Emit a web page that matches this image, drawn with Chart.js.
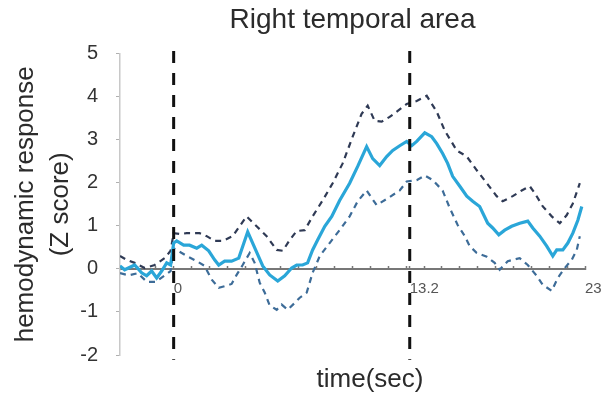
<!DOCTYPE html>
<html>
<head>
<meta charset="utf-8">
<script src="https://cdn.jsdelivr.net/npm/chart.js@4/dist/chart.umd.min.js"></script>
<style>
  html, body { margin: 0; padding: 0; background: #ffffff; }
  #wrap { width: 603px; height: 396px; }
</style>
</head>
<body>
<div id="wrap"><canvas id="c" width="603" height="396"></canvas></div>
<script>
// ---- DATA ----
const chartTitle = 'Right temporal area';
const yTitle = ['hemodynamic response', '(Z score)'];
const xTitle = 'time(sec)';
const xTickLabels = [0, 13.2, 23];
const markerTimes = [0, 13.2];

const meanTime = [-3.0, -2.74, -2.18, -1.79, -1.51, -1.23, -0.95, -0.67, -0.39, -0.17, 0.0, 0.17, 0.56, 0.89, 1.29, 1.57, 1.96, 2.29, 2.52, 2.85, 3.24, 3.64, 4.14, 4.98, 5.37, 5.82, 6.21, 6.60, 6.88, 7.21, 7.49, 7.77, 8.05, 8.45, 8.84, 9.28, 9.84, 10.29, 10.79, 11.13, 11.52, 11.91, 12.25, 12.64, 13.03, 13.31, 13.59, 14.04, 14.43, 14.71, 15.04, 15.32, 15.60, 16.00, 16.39, 16.72, 17.11, 17.56, 17.84, 18.18, 18.51, 18.90, 19.35, 19.80, 20.08, 20.47, 20.86, 21.20, 21.42, 21.76, 22.04, 22.32, 22.60, 22.82];
const meanValues = [0.07, -0.02, 0.09, -0.09, -0.16, -0.05, -0.21, -0.05, 0.14, 0.09, 0.60, 0.65, 0.55, 0.55, 0.48, 0.55, 0.42, 0.21, 0.09, 0.18, 0.18, 0.25, 0.86, 0.07, -0.14, -0.28, -0.16, 0.02, 0.09, 0.09, 0.14, 0.44, 0.67, 0.99, 1.22, 1.59, 1.99, 2.38, 2.84, 2.56, 2.40, 2.61, 2.75, 2.86, 2.96, 2.86, 2.96, 3.16, 3.07, 2.91, 2.68, 2.45, 2.15, 1.92, 1.69, 1.57, 1.45, 1.06, 0.95, 0.79, 0.90, 0.99, 1.06, 1.11, 0.95, 0.76, 0.53, 0.30, 0.44, 0.44, 0.60, 0.83, 1.13, 1.45];

const upperTime = [-3.0, -2.63, -2.18, -1.62, -1.06, -0.50, -0.17, 0.0, 0.34, 0.73, 1.45, 1.85, 2.29, 2.74, 3.30, 3.69, 4.08, 4.64, 5.20, 5.76, 6.10, 6.49, 6.88, 7.33, 7.77, 8.33, 8.89, 9.45, 10.01, 10.51, 10.85, 11.24, 11.63, 12.08, 12.53, 13.03, 13.59, 14.15, 14.71, 15.16, 15.83, 16.39, 16.95, 17.51, 18.06, 18.40, 18.96, 19.46, 19.91, 20.19, 20.64, 21.14, 21.59, 21.98, 22.32, 22.71];
const upperValues = [0.30, 0.21, 0.14, 0.02, 0.09, 0.25, 0.42, 0.83, 0.81, 0.83, 0.83, 0.76, 0.65, 0.65, 0.76, 0.99, 1.22, 0.99, 0.76, 0.44, 0.42, 0.67, 0.88, 0.90, 1.22, 1.59, 1.99, 2.45, 3.07, 3.60, 3.79, 3.44, 3.42, 3.53, 3.67, 3.83, 3.90, 4.02, 3.65, 3.21, 2.75, 2.61, 2.29, 1.99, 1.69, 1.57, 1.69, 1.82, 1.92, 1.76, 1.45, 1.22, 1.06, 1.25, 1.52, 1.99];

const lowerTime = [-3.0, -2.5, -2.0, -1.5, -1.0, -0.5, -0.17, 0.0, 0.17, 0.73, 1.29, 1.73, 2.13, 2.52, 2.96, 3.24, 3.52, 3.86, 4.25, 4.53, 4.81, 5.09, 5.37, 5.76, 6.04, 6.38, 6.77, 7.05, 7.44, 7.77, 8.17, 8.72, 9.28, 9.84, 10.29, 10.79, 11.35, 11.97, 12.64, 13.03, 13.59, 14.04, 14.49, 15.04, 15.44, 15.88, 16.28, 16.55, 16.95, 17.51, 17.95, 18.23, 18.68, 19.35, 19.80, 20.30, 20.64, 21.14, 21.48, 21.87, 22.26, 22.54, 22.71];
const lowerValues = [-0.10, -0.15, -0.10, -0.30, -0.30, -0.15, -0.05, 0.48, 0.44, 0.30, 0.18, 0.07, -0.25, -0.44, -0.39, -0.35, -0.14, 0.09, 0.37, 0.14, -0.32, -0.55, -0.85, -0.95, -0.83, -0.95, -0.79, -0.67, -0.55, -0.09, 0.30, 0.60, 0.90, 1.22, 1.57, 1.82, 1.48, 1.64, 1.82, 2.03, 2.06, 2.17, 2.06, 1.82, 1.41, 1.02, 0.76, 0.53, 0.37, 0.28, 0.14, -0.02, 0.18, 0.25, 0.09, -0.16, -0.37, -0.51, -0.21, 0.02, 0.21, 0.44, 0.76];

const xMin = -3, xMax = 23, yMin = -2, yMax = 5;

// ---- build datasets ----
function zip(xs, ys) { return xs.map((x, i) => ({ x: x, y: ys[i] })); }
const FONT = '"Liberation Sans", Arial, sans-serif';

const markerSets = markerTimes.map(t => ({
  data: [{ x: t, y: 5.06 }, { x: t, y: -2.11 }],
  borderColor: '#111111',
  borderWidth: 3,
  borderDash: [12, 10],
  pointRadius: 0,
  clip: false,
  order: 0
}));

const datasets = [
  ...markerSets,
  { data: zip(meanTime, meanValues), borderColor: '#2aa6d8', borderWidth: 3.2, pointRadius: 0, tension: 0, order: 1 },
  { data: zip(upperTime, upperValues), borderColor: '#2f3a55', borderWidth: 2.2, borderDash: [6, 5], pointRadius: 0, tension: 0, order: 2 },
  { data: zip(lowerTime, lowerValues), borderColor: '#3d6c98', borderWidth: 2.2, borderDash: [6, 5], pointRadius: 0, tension: 0, order: 3 }
];

const xTitlePlugin = {
  id: 'xTitle',
  afterDraw(chart) {
    const ctx = chart.ctx;
    ctx.save();
    ctx.font = '26px ' + FONT;
    ctx.fillStyle = '#2b2b2b';
    ctx.textAlign = 'center';
    ctx.textBaseline = 'alphabetic';
    ctx.fillText(xTitle, 370, 387);
    ctx.restore();
  }
};

new Chart(document.getElementById('c'), {
  type: 'line',
  data: { datasets: datasets },
  plugins: [xTitlePlugin],
  options: {
    responsive: false,
    animation: false,
    layout: { padding: { left: 0, right: 18, top: 0, bottom: 41 } },
    plugins: {
      legend: { display: false },
      tooltip: { enabled: false },
      title: {
        display: true,
        text: chartTitle,
        fullSize: false,
        color: '#2b2b2b',
        font: { family: FONT, size: 28, weight: 'normal' },
        padding: { top: 3, bottom: 17 }
      }
    },
    scales: {
      x: {
        type: 'linear',
        min: xMin, max: xMax,
        position: { y: 0 },
        border: { display: true, color: '#777777', width: 2 },
        grid: { drawOnChartArea: false, tickLength: -4, color: '#777777', tickWidth: 1.5 },
        afterBuildTicks(scale) {
          const t = [];
          for (let v = xMin; v <= xMax; v++) t.push({ value: v });
          t.push({ value: xTickLabels[1] });
          t.sort((a, b) => a.value - b.value);
          scale.ticks = t;
        },
        afterFit(scale) { scale.paddingLeft = 0; scale.paddingRight = 0; },
        ticks: {
          autoSkip: false,
          maxRotation: 0,
          align: 'start',
          padding: 15,
          color: '#555555',
          font: { family: FONT, size: 15 },
          callback(value) {
            return xTickLabels.some(v => Math.abs(v - value) < 1e-6) ? String(value) : '';
          }
        }
      },
      y: {
        type: 'linear',
        min: yMin, max: yMax,
        position: 'left',
        border: { display: true, color: '#c8c8c8', width: 1.5 },
        grid: { drawOnChartArea: false, tickLength: 4, color: '#b0b0b0' },
        afterFit(scale) { scale.width = 120; },
        ticks: {
          stepSize: 1,
          padding: 18,
          color: '#333333',
          font: { family: FONT, size: 20 }
        },
        title: {
          display: true,
          text: yTitle,
          color: '#2b2b2b',
          font: { family: FONT, size: 26, lineHeight: 1.35 },
          padding: { top: 8, bottom: 0 }
        }
      }
    }
  }
});
</script>
</body>
</html>
